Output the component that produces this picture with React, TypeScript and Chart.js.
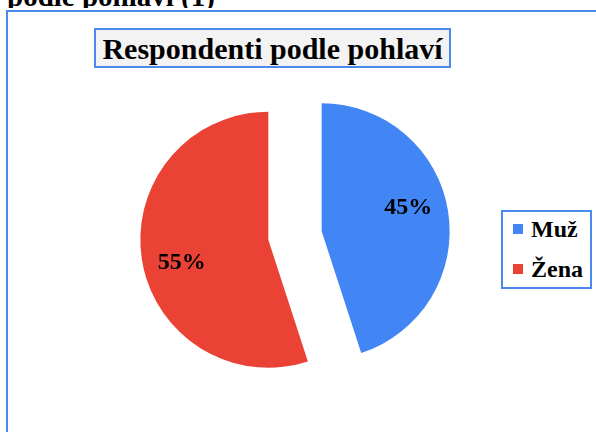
import React, { useEffect, useRef } from 'react';
import { Chart, registerables } from 'chart.js';

Chart.register(...registerables);

const heading = 'podle pohlaví (1)';
const chartTitle = 'Respondenti podle pohlaví';
const categories = ['Muž', 'Žena'];
const values = [45, 55];
const colors = ['#4285F4', '#EA4335'];

const SERIF = '"Liberation Serif", "Times New Roman", serif';
const BORDER_BLUE = '#4a89f0';

const explodePlugin = {
  id: 'explode',
  beforeDatasetDraw(chart: any, args: any, opts: any) {
    const ctx = chart.ctx;
    args.meta.data.forEach((arc: any) => {
      const mid = (arc.startAngle + arc.endAngle) / 2;
      ctx.save();
      ctx.translate(Math.cos(mid) * opts.distance, Math.sin(mid) * opts.distance);
      arc.draw(ctx);
      ctx.restore();
    });
    return false;
  },
};

const labelPlugin = {
  id: 'sliceLabels',
  afterDatasetsDraw(chart: any, _args: any, opts: any) {
    const meta = chart.getDatasetMeta(0);
    const data = chart.data.datasets[0].data as number[];
    const total = data.reduce((a, b) => a + b, 0);
    const ctx = chart.ctx;
    const dist = chart.options.plugins.explode.distance;
    ctx.save();
    ctx.font = opts.font;
    ctx.fillStyle = opts.color;
    ctx.textAlign = 'center';
    ctx.textBaseline = 'middle';
    meta.data.forEach((arc: any, i: number) => {
      const mid = (arc.startAngle + arc.endAngle) / 2;
      const cx = arc.x + Math.cos(mid) * dist;
      const cy = arc.y + Math.sin(mid) * dist;
      const a = mid + opts.angleShift;
      const r = arc.outerRadius * opts.radiusFactor;
      ctx.fillText(Math.round((data[i] / total) * 100) + '%', cx + Math.cos(a) * r, cy + Math.sin(a) * r);
    });
    ctx.restore();
  },
};

export default function App() {
  const canvasRef = useRef<HTMLCanvasElement | null>(null);

  useEffect(() => {
    if (!canvasRef.current) return;
    const chart = new Chart(canvasRef.current, {
      type: 'pie',
      data: {
        labels: categories,
        datasets: [
          {
            data: values,
            backgroundColor: colors,
            borderWidth: 0,
            hoverOffset: 0,
            offset: 0,
          },
        ],
      },
      options: {
        animation: false,
        responsive: false,
        maintainAspectRatio: false,
        events: [],
        layout: { padding: { top: 107.5, bottom: 68.5, left: 167, right: 173 } },
        plugins: {
          legend: { display: false },
          title: { display: false },
          tooltip: { enabled: false },
          explode: { distance: 27 },
          sliceLabels: {
            font: 'bold 24px ' + SERIF,
            color: '#000',
            angleShift: -0.105,
            radiusFactor: 0.7,
          },
        } as any,
      },
      plugins: [explodePlugin, labelPlugin] as any,
    });
    return () => chart.destroy();
  }, []);

  return (
    <div
      style={{
        position: 'absolute',
        left: 0,
        top: 0,
        width: 596,
        height: 432,
        overflow: 'hidden',
        background: '#fff',
      }}
    >
      <div style={{ position: 'absolute', left: 0, top: 0, width: 596, height: 8, overflow: 'hidden' }}>
        <div
          style={{
            position: 'absolute',
            left: 7,
            top: -18,
            font: 'bold 29px ' + SERIF,
            lineHeight: '29px',
            whiteSpace: 'nowrap',
            color: '#000',
          }}
        >
          {heading}
        </div>
      </div>
      <div
        style={{
          position: 'absolute',
          left: 6,
          top: 10,
          width: 640,
          height: 480,
          border: '2px solid ' + BORDER_BLUE,
          boxSizing: 'border-box',
        }}
      />
      <canvas
        ref={canvasRef}
        width={596}
        height={432}
        style={{ position: 'absolute', left: 0, top: 0, width: 596, height: 432, display: 'block' }}
      />
      <div
        style={{
          position: 'absolute',
          left: 94,
          top: 28,
          width: 357,
          height: 40,
          boxSizing: 'border-box',
          border: '2px solid ' + BORDER_BLUE,
          background: '#f3f3f3',
          font: 'bold 30px ' + SERIF,
          lineHeight: '37px',
          textAlign: 'center',
          whiteSpace: 'nowrap',
          color: '#000',
        }}
      >
        {chartTitle}
      </div>
      <div
        style={{
          position: 'absolute',
          left: 501,
          top: 210,
          width: 91,
          height: 79,
          boxSizing: 'border-box',
          border: '2px solid ' + BORDER_BLUE,
          background: '#fff',
        }}
      >
        {categories.map((c, i) => (
          <div
            key={c}
            style={{
              position: 'absolute',
              left: 0,
              top: 5 + i * 40,
              height: 24,
              display: 'flex',
              alignItems: 'center',
            }}
          >
            <span
              style={{ display: 'inline-block', width: 10, height: 10, marginLeft: 10, background: colors[i] }}
            />
            <span
              style={{
                marginLeft: 8,
                font: 'bold 24px ' + SERIF,
                lineHeight: '24px',
                color: '#000',
                whiteSpace: 'nowrap',
              }}
            >
              {c}
            </span>
          </div>
        ))}
      </div>
    </div>
  );
}
